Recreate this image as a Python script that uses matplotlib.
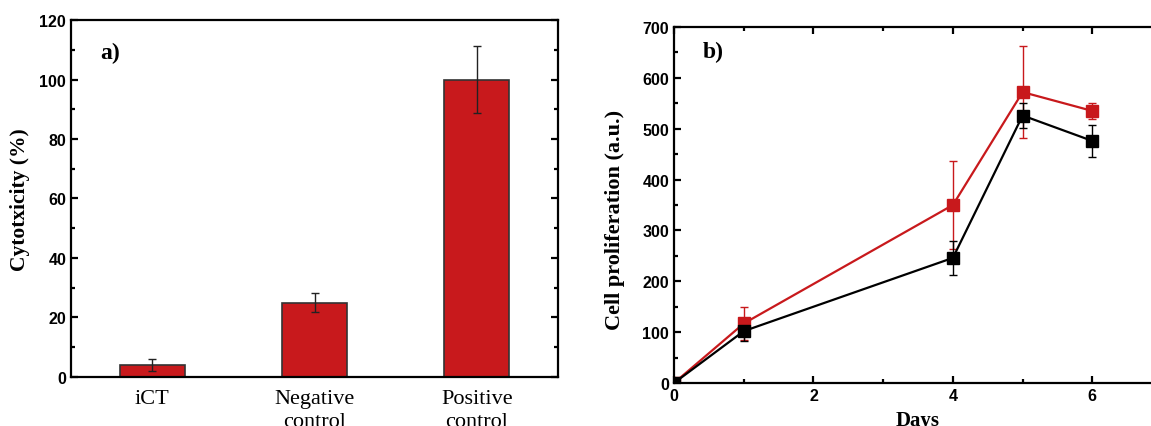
import matplotlib.pyplot as plt
from matplotlib.ticker import MultipleLocator

# panel a) cytotoxicity
groups = ['iCT', 'Negative\ncontrol', 'Positive\ncontrol']
cyto = [4, 25, 100]
cyto_err = [2.0, 3.3, 11.3]

# panel b) cell proliferation
days = [0, 1, 4, 5, 6]
red_vals = [0, 117, 350, 572, 535]
red_err = [0, 33, 87, 90, 16]
black_vals = [0, 102, 246, 526, 476]
black_err = [0, 20, 33, 24, 31]

red = '#c8191c'
serif = 'Liberation Serif'
sans = 'Liberation Sans'

fig = plt.figure(figsize=(11.51, 4.27), dpi=100)
ax1 = fig.add_axes([0.0617, 0.1148, 0.4231, 0.836])
ax2 = fig.add_axes([0.5856, 0.1007, 0.424, 0.8337])

# --- a) bars ---
x = range(len(groups))
ax1.bar(x, cyto, width=0.4, color=red, edgecolor='#333333', linewidth=1.2,
        yerr=cyto_err, error_kw=dict(ecolor='#222222', elinewidth=1.0, capsize=3, capthick=1.0))
ax1.set_xlim(-0.5, 2.5)
ax1.set_ylim(0, 120)
ax1.set_xticks(list(x))
ax1.set_xticklabels(groups, family=serif, fontsize=16, linespacing=1.25)
ax1.tick_params(axis='x', length=0, pad=9)
ax1.yaxis.set_major_locator(MultipleLocator(20))
ax1.yaxis.set_minor_locator(MultipleLocator(10))
ax1.tick_params(axis='y', which='both', direction='in', left=True, right=True, width=1.6)
ax1.tick_params(axis='y', which='major', length=5)
ax1.tick_params(axis='y', which='minor', length=3)
for lbl in ax1.get_yticklabels():
    lbl.set_family(sans)
    lbl.set_fontweight('bold')
    lbl.set_fontsize(11.5)
ax1.set_ylabel('Cytotxicity (%)', family=serif, fontweight='bold', fontsize=15.5, labelpad=7)
ax1.text(0.06, 0.91, 'a)', transform=ax1.transAxes, family=serif, fontweight='bold',
         fontsize=17, va='center')
for s in ax1.spines.values():
    s.set_linewidth(1.6)

# --- b) lines ---
ax2.errorbar(days, red_vals, yerr=red_err, color=red, marker='s', markersize=9,
             linewidth=1.6, elinewidth=1.0, capsize=3, capthick=1.0)
ax2.errorbar(days, black_vals, yerr=black_err, color='black', marker='s', markersize=9,
             linewidth=1.6, elinewidth=1.0, capsize=3, capthick=1.0)
ax2.set_xlim(0, 7)
ax2.set_ylim(0, 700)
ax2.xaxis.set_major_locator(MultipleLocator(2))
ax2.xaxis.set_minor_locator(MultipleLocator(1))
ax2.yaxis.set_major_locator(MultipleLocator(100))
ax2.yaxis.set_minor_locator(MultipleLocator(50))
ax2.set_xticks([0, 2, 4, 6])
ax2.tick_params(which='both', direction='in', top=True, right=True, width=1.6)
ax2.tick_params(which='major', length=5)
ax2.tick_params(which='minor', length=3)
for lbl in ax2.get_xticklabels() + ax2.get_yticklabels():
    lbl.set_family(sans)
    lbl.set_fontweight('bold')
    lbl.set_fontsize(11.5)
ax2.set_xlabel('Days', family=serif, fontweight='bold', fontsize=15, labelpad=5)
ax2.set_ylabel('Cell proliferation (a.u.)', family=serif, fontweight='bold', fontsize=16)
ax2.yaxis.set_label_coords(-0.1, 0.46)
ax2.text(0.058, 0.93, 'b)', transform=ax2.transAxes, family=serif, fontweight='bold',
         fontsize=17, va='center')
for s in ax2.spines.values():
    s.set_linewidth(1.6)

plt.savefig('out.png', dpi=100)
